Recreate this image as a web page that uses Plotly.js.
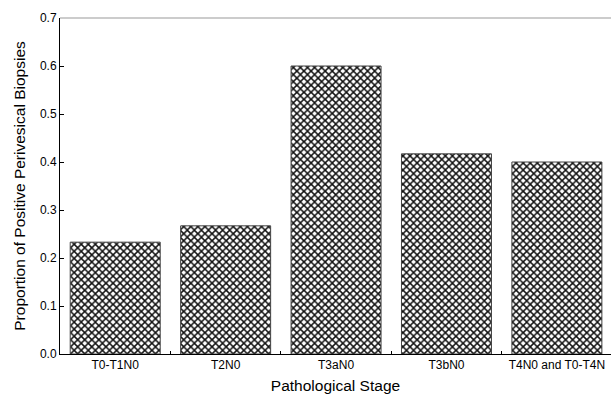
<!DOCTYPE html>
<html><head><meta charset="utf-8">
<script src="https://cdn.plot.ly/plotly-3.0.1.min.js"></script>
<style>html,body{margin:0;padding:0;background:#fff}#chart{width:611px;height:398px}</style>
</head><body><div id="chart"></div>
<script>
const categories = ["T0-T1N0", "T2N0", "T3aN0", "T3bN0", "T4N0 and T0-T4N"];
const proportions = [0.233, 0.267, 0.600, 0.417, 0.400];
const yTicks = [0.0, 0.1, 0.2, 0.3, 0.4, 0.5, 0.6, 0.7];
const yTickLabels = ["0.0", "0.1", "0.2", "0.3", "0.4", "0.5", "0.6", "0.7"];

const trace = {
  type: "bar",
  x: categories,
  y: proportions,
  marker: {
    color: "#ffffff",
    line: {color: "#444444", width: 1},
    pattern: {shape: "x", fgcolor: "#111111", bgcolor: "#ffffff", size: 5, solidity: 0.5}
  },
  hoverinfo: "x+y"
};

const layout = {
  width: 611, height: 398,
  margin: {l: 60, r: 0, t: 18, b: 44},
  paper_bgcolor: "#ffffff", plot_bgcolor: "#ffffff",
  font: {family: "Liberation Sans, Arial, sans-serif", color: "#000"},
  bargap: 0.185,
  showlegend: false,
  xaxis: {
    range: [-0.5, 4.49],
    showline: true, linecolor: "#000", linewidth: 1,
    ticks: "inside", ticklen: 3, tickcolor: "#000", tickson: "boundaries",
    showgrid: false, zeroline: false,
    tickfont: {size: 12},
    title: {text: "Pathological Stage", font: {size: 15.5}, standoff: 8}
  },
  yaxis: {
    range: [0, 0.7],
    tickvals: yTicks, ticktext: yTickLabels,
    showline: true, linecolor: "#000", linewidth: 1,
    ticks: "inside", ticklen: 4, tickcolor: "#000",
    showgrid: false, zeroline: false,
    tickfont: {size: 12},
    title: {text: "Proportion of Positive Perivesical Biopsies", font: {size: 15.5}, standoff: 10}
  },
  shapes: [
    {type: "line", xref: "paper", yref: "paper", x0: 0, x1: 1, y0: 1, y1: 1,
     line: {color: "#999999", width: 1}}
  ]
};

Plotly.newPlot("chart", [trace], layout, {displayModeBar: false, staticPlot: true});
</script></body></html>
